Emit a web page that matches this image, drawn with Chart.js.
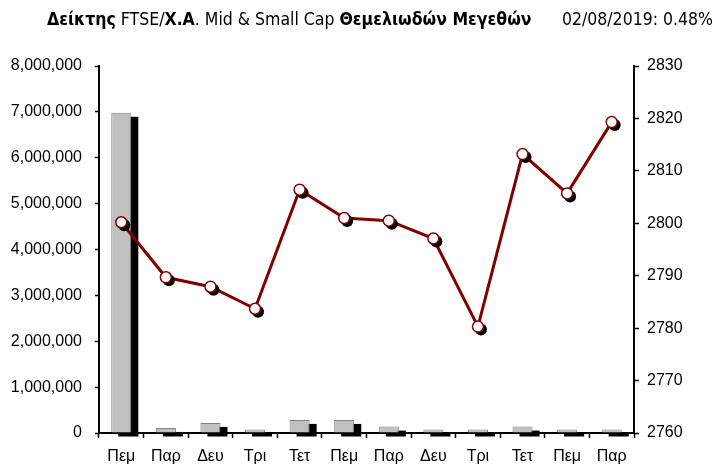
<!DOCTYPE html>
<html>
<head>
<meta charset="utf-8">
<script src="https://cdn.jsdelivr.net/npm/chart.js@4/dist/chart.umd.min.js"></script>
<style>
  body { margin: 0; background: #fff; }
  #wrap { position: relative; width: 715px; height: 464px; }
  .title { position: absolute; top: 9px; font-family: "Liberation Sans Narrow", "DejaVu Sans Condensed", sans-serif; font-size: 17.5px; white-space: nowrap; color: #000; }
  #t1 { left: 47px; }
  #t2 { right: 2px; }
  canvas { position: absolute; left: 0; top: 0; }
</style>
</head>
<body>
<div id="wrap">
  <canvas id="myChart" width="715" height="464"></canvas>
  <div class="title" id="t1"><b>Δείκτης</b> FTSE/<b>Χ.Α</b>. Mid &amp; Small Cap <b>Θεμελιωδών Μεγεθών</b></div>
  <div class="title" id="t2">02/08/2019: 0.48%</div>
</div>
<script>
const labels = ['Πεμ', 'Παρ', 'Δευ', 'Τρι', 'Τετ', 'Πεμ', 'Παρ', 'Δευ', 'Τρι', 'Τετ', 'Πεμ', 'Παρ'];
const volumes = [6980000, 110000, 220000, 75000, 285000, 285000, 140000, 75000, 75000, 140000, 75000, 75000];
const closes = [2800.2, 2789.7, 2787.9, 2783.7, 2806.4, 2801.0, 2800.5, 2797.1, 2780.3, 2813.2, 2805.7, 2819.3];

const leftMin = 0, leftMax = 8000000, leftStep = 1000000;
const rightMin = 2760, rightMax = 2830, rightStep = 10;

const tickFont = { family: "'Liberation Sans', Arial, sans-serif", size: 16 };

// black drop shadows under bars and points
const shadowPlugin = {
  id: 'shadows',
  beforeDatasetDraw(chart, args) {
    const ds = chart.data.datasets[args.index];
    if (!ds.shadow) return;
    const ctx = chart.ctx;
    ctx.save();
    ctx.fillStyle = '#000';
    args.meta.data.forEach(el => {
      if (ds.type === 'bar') {
        const p = el.getProps(['x', 'y', 'base', 'width'], true);
        ctx.fillRect(p.x - p.width / 2 + 7, p.y + 4, p.width, p.base - p.y);
      } else {
        ctx.beginPath();
        ctx.arc(el.x + 3, el.y + 3, 6, 0, Math.PI * 2);
        ctx.fill();
      }
    });
    ctx.restore();
  }
};

const ctx = document.getElementById('myChart').getContext('2d');
const chart = new Chart(ctx, {
  data: {
    labels: labels,
    datasets: [
      {
        type: 'bar',
        data: volumes,
        yAxisID: 'y',
        backgroundColor: '#C0C0C0',
        borderColor: '#808080',
        borderWidth: 1,
        categoryPercentage: 1,
        barPercentage: 0.45,
        shadow: true,
        order: 3
      },
      {
        type: 'line',
        data: closes,
        yAxisID: 'y1',
        borderColor: '#800000',
        borderWidth: 3,
        pointRadius: 0,
        fill: false,
        order: 2
      },
      {
        type: 'line',
        data: closes,
        yAxisID: 'y1',
        showLine: false,
        pointRadius: 5.5,
        pointBorderWidth: 1.5,
        pointBackgroundColor: '#fff',
        pointBorderColor: '#800000',
        shadow: true,
        order: 1
      }
    ]
  },
  options: {
    responsive: false,
    animation: false,
    layout: { padding: { top: 66, left: 0, right: 0, bottom: 0 } },
    plugins: { legend: { display: false }, tooltip: { enabled: false } },
    scales: {
      x: {
        z: 1,
        offset: true,
        grid: { offset: true, drawOnChartArea: false, tickLength: 5, tickColor: '#000', tickWidth: 1.5 },
        border: { color: '#000', width: 2 },
        ticks: { font: tickFont, color: '#000', padding: 9, maxRotation: 0 },
        afterFit: s => { s.height = 31; }
      },
      y: {
        z: 1,
        position: 'left',
        min: leftMin, max: leftMax,
        grid: { drawOnChartArea: false, tickLength: 4, tickColor: '#000', tickWidth: 1.5 },
        border: { color: '#000', width: 2 },
        ticks: { stepSize: leftStep, font: tickFont, color: '#000', padding: 13,
          callback: v => v.toLocaleString('en-US') },
        afterFit: s => { s.width = 99; }
      },
      y1: {
        z: 1,
        position: 'right',
        min: rightMin, max: rightMax,
        grid: { drawOnChartArea: false, tickLength: 5, tickColor: '#000', tickWidth: 1.5 },
        border: { color: '#000', width: 2 },
        ticks: { stepSize: rightStep, font: tickFont, color: '#000', padding: 8,
          callback: v => String(v) },
        afterFit: s => { s.width = 81; }
      }
    }
  },
  plugins: [shadowPlugin]
});
</script>
</body>
</html>
